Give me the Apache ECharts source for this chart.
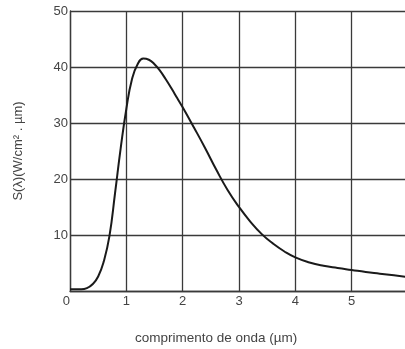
<!DOCTYPE html>
<html>
<head>
<meta charset="utf-8">
<script src="https://cdn.jsdelivr.net/npm/echarts@6/dist/echarts.min.js"></script>
<style>html,body{margin:0;padding:0;background:#fff;}#c{width:405px;height:349px;}</style>
</head>
<body>
<div id="c"></div>
<script>
const wavelength = [0.0, 0.2, 0.3, 0.4, 0.5, 0.6, 0.7, 0.8, 0.9, 1.0, 1.1, 1.2, 1.3, 1.4, 1.5, 1.6, 1.7, 1.8, 1.9, 2.0, 2.2, 2.4, 2.6, 2.8, 3.0, 3.2, 3.4, 3.6, 3.8, 4.0, 4.25, 4.5, 4.75, 5.0, 5.25, 5.5, 5.75, 6.0];
const irradiance = [0.3, 0.3, 0.5, 1.2, 2.6, 5.3, 9.8, 17.5, 25.5, 32.5, 37.8, 40.5, 41.5, 41.3, 40.5, 39.3, 37.8, 36.2, 34.5, 32.8, 29.2, 25.5, 21.6, 18.0, 15.0, 12.4, 10.2, 8.5, 7.1, 6.0, 5.1, 4.5, 4.1, 3.75, 3.4, 3.1, 2.8, 2.5];
const xName = 'comprimento de onda (\u00b5m)';
const yName = 'S(\u03bb)(W/cm\u00b2 . \u00b5m)';

const chart = echarts.init(document.getElementById('c'), null, {renderer: 'canvas'});
const gridColor = '#3a3a3a';
const labelColor = '#444';
const font = 'Liberation Sans, Arial, sans-serif';
chart.setOption({
  animation: false,
  backgroundColor: '#fff',
  grid: {left: 70, top: 11, width: 338, height: 280, outerBoundsMode: 'none', containLabel: false},
  xAxis: {
    type: 'value', min: 0, max: 6, interval: 1,
    axisLine: {show: true, lineStyle: {color: gridColor, width: 1.3}},
    axisTick: {show: false},
    axisLabel: {color: labelColor, fontSize: 13, fontFamily: font, margin: 4, alignMinLabel: 'right', showMaxLabel: true},
    splitLine: {show: true, lineStyle: {color: gridColor, width: 1.3}}
  },
  yAxis: {
    type: 'value', min: 0, max: 50, interval: 10,
    name: yName, nameLocation: 'middle', nameGap: 45, nameRotate: 90,
    nameTextStyle: {color: labelColor, fontSize: 13, fontFamily: font, padding: [0, 0, 0, 0]},
    axisLine: {show: true, lineStyle: {color: gridColor, width: 1.3}},
    axisTick: {show: false},
    axisLabel: {color: labelColor, fontSize: 13, fontFamily: font, margin: 2,
      formatter: v => v === 0 ? '' : String(v)},
    splitLine: {show: true, lineStyle: {color: gridColor, width: 1.3}}
  },
  graphic: [{
    type: 'text', left: 135, top: 331,
    style: {text: xName, fill: labelColor, fontSize: 13.5, fontFamily: font}
  }],
  series: [{
    type: 'line', smooth: true, symbol: 'none',
    lineStyle: {color: '#1a1a1a', width: 2},
    data: wavelength.map((x, i) => [x, irradiance[i]])
  }]
});
</script>
</body>
</html>
